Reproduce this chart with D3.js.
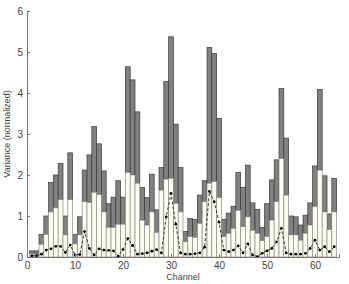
<!DOCTYPE html>
<html>
<head>
<meta charset="utf-8">
<script src="https://cdn.jsdelivr.net/npm/d3@7"></script>
<style>
  body { margin: 0; background: #fff; }
  text { font-family: "Liberation Sans", Arial, sans-serif; }
</style>
</head>
<body>
<div id="chart"></div>
<script>
// Stacked variance per channel, with mean line

const channels = d3.range(1, 65);

// top of the light (lower) segment
const lowerTop = [0.08, 0.07, 0.31, 0.55, 1.10, 1.20, 1.40, 0.54, 1.40, 0.32,
                  0.54, 1.35, 1.33, 1.58, 1.52, 1.10, 0.72, 0.72, 0.80, 0.80,
                  2.06, 2.00, 1.80, 0.90, 0.78, 1.10, 0.60, 1.63, 1.90, 1.92,
                  1.31, 1.10, 0.37, 0.50, 0.48, 0.82, 1.35, 1.80, 1.84, 1.45,
                  0.50, 0.58, 0.70, 1.14, 0.74, 0.98, 0.65, 0.58, 0.40, 0.50,
                  0.90, 1.35, 2.40, 1.51, 0.54, 0.54, 0.41, 0.58, 0.78, 1.23,
                  2.12, 1.10, 0.67, 1.10];

// top of the dark (upper) segment = total
const totalTop = [0.15, 0.15, 0.55, 1.00, 1.82, 2.00, 2.28, 1.00, 2.54, 0.55,
                  0.98, 2.12, 2.49, 3.18, 2.76, 2.10, 1.30, 1.46, 1.86, 1.46,
                  4.64, 4.32, 3.54, 1.70, 1.45, 2.02, 1.15, 2.18, 4.28, 5.37,
                  3.24, 2.18, 0.62, 0.94, 0.92, 1.51, 1.86, 5.11, 4.96, 3.38,
                  0.92, 1.07, 1.24, 2.06, 1.70, 2.24, 1.32, 1.16, 0.72, 1.30,
                  1.88, 2.37, 4.11, 2.90, 1.00, 0.98, 0.78, 1.02, 1.32, 2.22,
                  4.09, 1.98, 1.05, 1.92];

// dashed line values
const lineVals = [0.03, 0.03, 0.07, 0.17, 0.20, 0.26, 0.26, 0.11, 0.29, 0.05,
                  0.06, 0.62, 0.21, 0.05, 0.20, 0.17, 0.16, 0.15, 0.02, 0.18,
                  0.45, 0.28, 0.07, 0.08, 0.10, 0.14, 0.18, 0.10, 0.98, 1.55,
                  0.80, 0.10, 0.07, 0.07, 0.08, 0.10, 0.24, 1.60, 1.35, 0.85,
                  0.17, 0.13, 0.17, 0.27, 0.10, 0.32, 0.05, 0.01, 0.09, 0.15,
                  0.21, 0.37, 0.70, 0.10, 0.07, 0.07, 0.07, 0.09, 0.21, 0.41,
                  0.17, 0.25, 0.13, 0.25];

const xTicks = [0, 10, 20, 30, 40, 50, 60];
const yTicks = [0, 1, 2, 3, 4, 5, 6];

const W = 349, H = 284;
const margin = { top: 11, right: 10, bottom: 27, left: 27 };
const width = W - margin.left - margin.right;
const height = H - margin.top - margin.bottom;

const svg = d3.select('#chart').append('svg')
    .attr('width', W)
    .attr('height', H);

const g = svg.append('g')
    .attr('transform', `translate(${margin.left},${margin.top})`);

const x = d3.scaleLinear().domain([0, 65]).range([0, width]);
const y = d3.scaleLinear().domain([0, 6]).range([height, 0]);

const bw = x(1) - x(0);

// upper (dark) segments
g.selectAll('.upper')
    .data(channels)
    .enter().append('rect')
    .attr('class', 'upper')
    .attr('x', (d, i) => x(d) - bw / 2)
    .attr('width', bw)
    .attr('y', (d, i) => y(totalTop[i]))
    .attr('height', (d, i) => y(lowerTop[i]) - y(totalTop[i]))
    .attr('fill', '#808080')
    .attr('stroke', '#3a3a3a')
    .attr('stroke-width', 0.7);

// lower (light) segments
g.selectAll('.lower')
    .data(channels)
    .enter().append('rect')
    .attr('class', 'lower')
    .attr('x', (d, i) => x(d) - bw / 2)
    .attr('width', bw)
    .attr('y', (d, i) => y(lowerTop[i]))
    .attr('height', (d, i) => y(0) - y(lowerTop[i]))
    .attr('fill', '#fdfdf2')
    .attr('stroke', '#8a8a8a')
    .attr('stroke-width', 0.7);

// dashed line with dots
const line = d3.line()
    .x((d, i) => x(channels[i]))
    .y(d => y(d));

g.append('path')
    .datum(lineVals)
    .attr('d', line)
    .attr('fill', 'none')
    .attr('stroke', '#222')
    .attr('stroke-width', 0.9)
    .attr('stroke-dasharray', '3,2');

g.selectAll('.dot')
    .data(lineVals)
    .enter().append('circle')
    .attr('class', 'dot')
    .attr('cx', (d, i) => x(channels[i]))
    .attr('cy', d => y(d))
    .attr('r', 1.4)
    .attr('fill', '#000');

// axes
const xAxis = d3.axisBottom(x).tickValues(xTicks)
    .tickFormat(d3.format('d')).tickSize(-3).tickPadding(5);
const yAxis = d3.axisLeft(y).tickValues(yTicks)
    .tickFormat(d3.format('d')).tickSize(-3).tickPadding(4);

const gx = g.append('g')
    .attr('transform', `translate(0,${height})`)
    .call(xAxis);
const gy = g.append('g').call(yAxis);

[gx, gy].forEach(a => {
    a.select('.domain').attr('stroke', '#777').attr('stroke-width', 1);
    a.selectAll('.tick line').attr('stroke', '#777');
    a.selectAll('.tick text')
        .style('font-size', '10px')
        .style('fill', '#444')
        .style('font-family', '"Liberation Sans", Arial, sans-serif');
});

// axis labels
g.append('text')
    .attr('x', width / 2)
    .attr('y', height + 23)
    .attr('text-anchor', 'middle')
    .style('font-size', '9px')
    .style('fill', '#444')
    .text('Channel');

g.append('text')
    .attr('transform', 'rotate(-90)')
    .attr('x', -height / 2)
    .attr('y', -17)
    .attr('text-anchor', 'middle')
    .style('font-size', '9px')
    .style('fill', '#444')
    .text('Variance (normalized)');
</script>
</body>
</html>
